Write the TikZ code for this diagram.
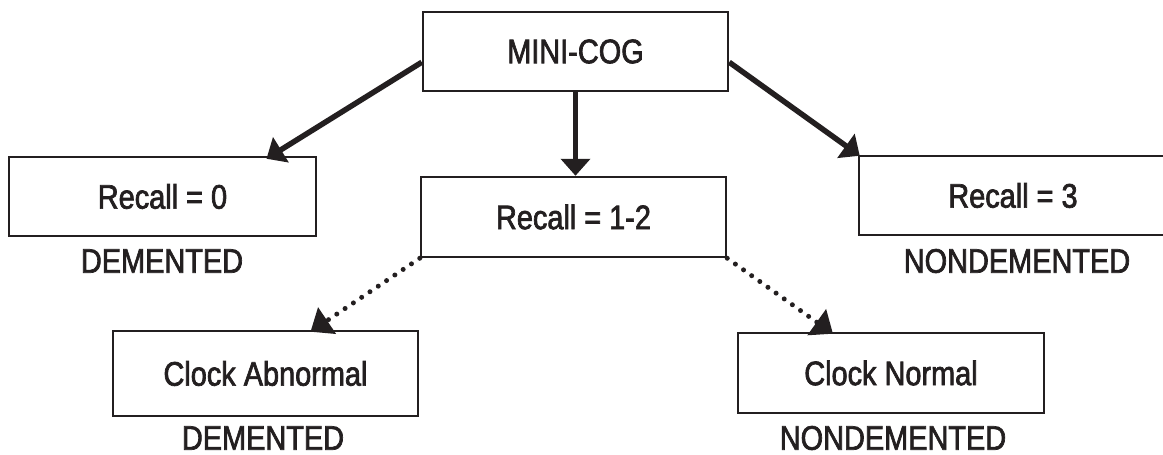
\documentclass[tikz,border=0pt]{standalone}
\usepackage{fontspec}
\setmainfont{Liberation Sans}[FakeStretch=0.85, FakeBold=2]
\usetikzlibrary{arrows.meta,calc}
\definecolor{ink}{RGB}{35,31,32}
\begin{document}
\begin{tikzpicture}[x=1pt,y=-1pt,
  every node/.style={font=\fontsize{34}{40}\selectfont, text=ink},
  stepbox/.style={draw=ink, line width=2.5pt, minimum width=305pt,
                  minimum height=80pt, inner sep=0pt, anchor=center},
  outcome/.style={inner sep=0pt, anchor=center},
  solidarrow/.style={draw=ink, line width=5.5pt,
                     -{Triangle[length=17pt,width=29pt]}},
  dotarrow/.style={draw=ink, line width=5pt, line cap=round,
                   dash pattern=on 0pt off 10pt,
                   -{Triangle[length=20pt,width=31pt,line cap=butt]}}
]
\useasboundingbox (0,0) rectangle (1163,455);

% boxes
\node[stepbox, minimum height=79pt] (mini) at (575.5,51.5) {MINI-COG};
\node[stepbox] (r12) at (573.5,217) {Recall = 1-2};
\node[stepbox, minimum width=307pt, minimum height=79pt] (r0) at (162.5,196.5) {Recall = 0};
\node[stepbox, minimum width=308pt, minimum height=79pt] (r3) at (1013,195.5) {Recall = 3};
\node[stepbox, minimum height=85pt] (ca) at (265.5,373.5) {Clock Abnormal};
\node[stepbox, minimum width=306pt] (cn) at (891,373) {Clock Normal};

% outcome labels
\node[outcome] (d0) at (162,261) {DEMENTED};
\node[outcome] (n3) at (1017,261) {NONDEMENTED};
\node[outcome] (dca) at (263,438) {DEMENTED};
\node[outcome] (ncn) at (893,438) {NONDEMENTED};

% solid connectors
\draw[solidarrow] (mini.184) -- ([xshift=104pt,yshift=-3pt]r0.north);
\draw[solidarrow] (mini.-4) -- ([xshift=2pt,yshift=-1pt]r3.north west);
\draw[solidarrow] (mini.south) -- (mini.south |- r12.north);

% dotted connectors
\draw[dotarrow] (r12.south west) -- ([xshift=45pt,yshift=-2pt]ca.north);
\draw[dotarrow] (r12.south east) -- ([xshift=-58pt,yshift=-2pt]cn.north);
\end{tikzpicture}
\end{document}
